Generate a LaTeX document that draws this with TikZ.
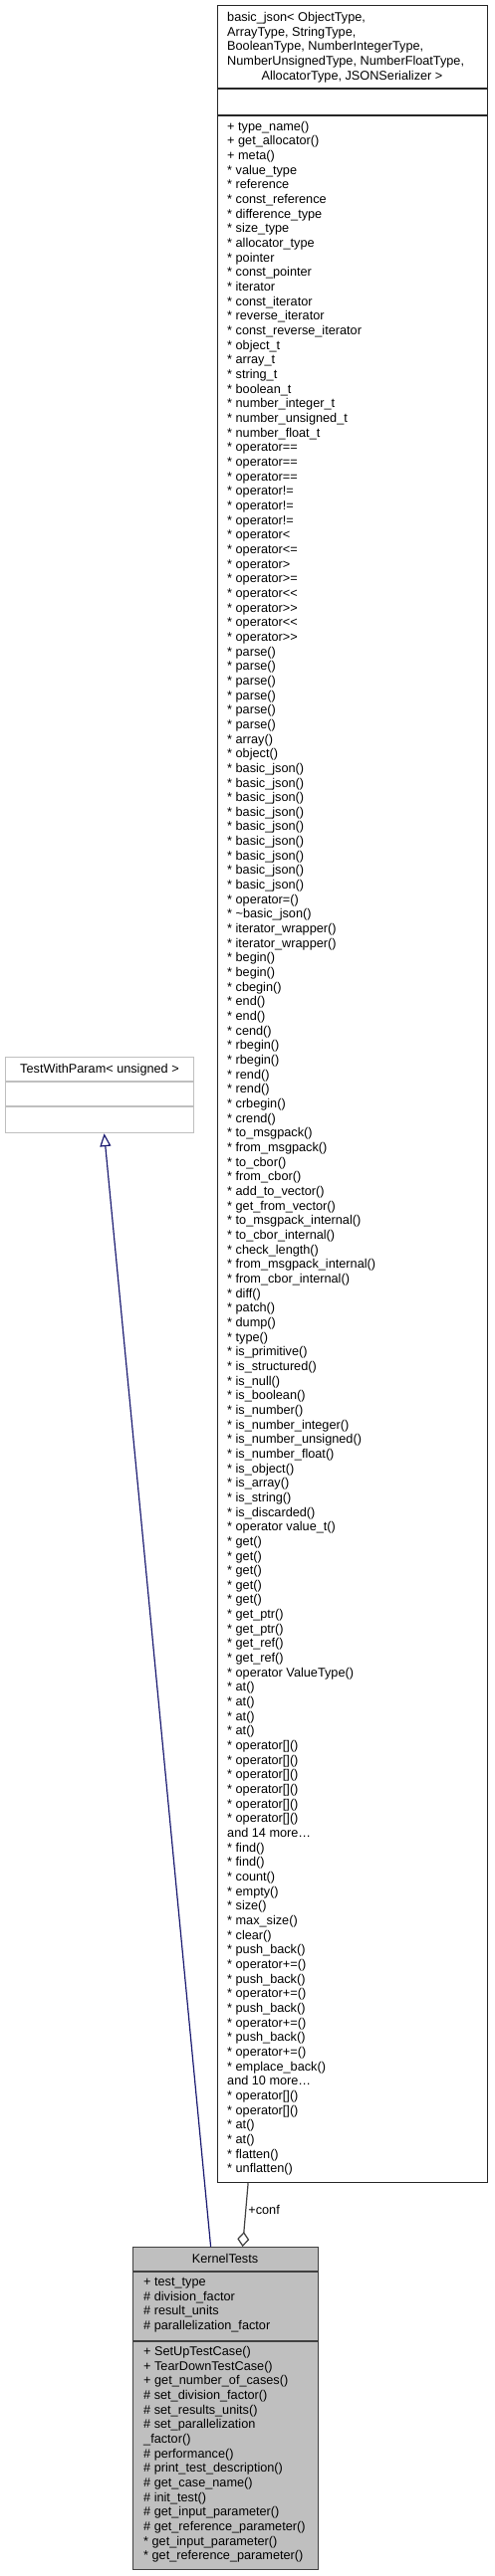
\documentclass[tikz,border=0pt]{standalone}
\usepackage{fontspec}
\setmainfont{Liberation Sans}[Ligatures=TeXOff]
\usetikzlibrary{arrows.meta}

\definecolor{navyedge}{HTML}{191970}
\definecolor{aggedge}{HTML}{404040}
\definecolor{greyfill}{HTML}{BFBFBF}

\begin{document}
\begin{tikzpicture}[
  x=1pt,
  y=-1pt,
  every node/.style={font=\fontsize{12.7}{14.66}\selectfont,inner sep=0pt},
  cls/.style={draw=black!85,line width=1.2pt,fill=white,anchor=north west},
  extcls/.style={cls,draw=greyfill},
  rootcls/.style={cls,draw=black!75,fill=greyfill},
  members/.style={anchor=north west,align=left,execute at begin node=\strut},
  entry/.style={anchor=base west},
  sep/.style={draw=black!85,line width=1.2pt},
  inherit/.style={-{Triangle[open,length=13pt,width=11pt]},navyedge,line width=1.2pt},
  aggr/.style={-{Diamond[open,length=15pt,width=12pt]},aggedge,line width=1.2pt}
]
\useasboundingbox (0,0) rectangle (496,2589);

% basic_json
\node[cls,minimum width=271pt,minimum height=2188pt] (json) at (218,5) {};
\draw[sep] (218,89) -- (489,89);
\draw[sep] (218,116) -- (489,116);
\node[members] (jsonname) at (228,12) {basic\_json< ObjectType,\\
  ArrayType, StringType,\\
  BooleanType, NumberIntegerType,\\
  NumberUnsignedType, NumberFloatType,};
\node[anchor=base] (jsonname2) at (353.5,80.9) {AllocatorType, JSONSerializer >};
\foreach \txt [count=\i from 0] in {+ type\_name(), + get\_allocator(), + meta(),
  * value\_type, * reference, * const\_reference, * difference\_type, * size\_type,
  * allocator\_type, * pointer, * const\_pointer, * iterator, * const\_iterator,
  * reverse\_iterator, * const\_reverse\_iterator, * object\_t, * array\_t,
  * string\_t, * boolean\_t, * number\_integer\_t, * number\_unsigned\_t,
  * number\_float\_t, * operator==, * operator==, * operator==, * operator!=,
  * operator!=, * operator!=, * operator<, * operator<=, * operator>,
  * operator>=, * operator<<, * operator>>, * operator<<, * operator>>,
  * parse(), * parse(), * parse(), * parse(), * parse(), * parse(),
  * array(), * object(), * basic\_json(), * basic\_json(), * basic\_json(),
  * basic\_json(), * basic\_json(), * basic\_json(), * basic\_json(),
  * basic\_json(), * basic\_json(), * operator=(), * \textasciitilde basic\_json(),
  * iterator\_wrapper(), * iterator\_wrapper(), * begin(), * begin(), * cbegin(),
  * end(), * end(), * cend(), * rbegin(), * rbegin(), * rend(), * rend(),
  * crbegin(), * crend(), * to\_msgpack(), * from\_msgpack(), * to\_cbor(),
  * from\_cbor(), * add\_to\_vector(), * get\_from\_vector(),
  * to\_msgpack\_internal(), * to\_cbor\_internal(), * check\_length(),
  * from\_msgpack\_internal(), * from\_cbor\_internal(), * diff(), * patch(),
  * dump(), * type(), * is\_primitive(), * is\_structured(), * is\_null(),
  * is\_boolean(), * is\_number(), * is\_number\_integer(),
  * is\_number\_unsigned(), * is\_number\_float(), * is\_object(), * is\_array(),
  * is\_string(), * is\_discarded(), * operator value\_t(), * get(), * get(),
  * get(), * get(), * get(), * get\_ptr(), * get\_ptr(), * get\_ref(),
  * get\_ref(), * operator ValueType(), * at(), * at(), * at(), * at(),
  * operator[](), * operator[](), * operator[](), * operator[](),
  * operator[](), * operator[](), and 14 more\ldots, * find(), * find(),
  * count(), * empty(), * size(), * max\_size(), * clear(), * push\_back(),
  * operator+=(), * push\_back(), * operator+=(), * push\_back(),
  * operator+=(), * push\_back(), * operator+=(), * emplace\_back(),
  and 10 more\ldots, * operator[](), * operator[](), * at(), * at(),
  * flatten(), * unflatten()}
  \node[entry] (jsonop\i) at (228,{131.3+14.66*\i}) {\txt};

% TestWithParam
\node[extcls,minimum width=189pt,minimum height=76pt] (param) at (5,1062) {};
\draw[sep,draw=greyfill] (5,1087) -- (194,1087);
\draw[sep,draw=greyfill] (5,1112) -- (194,1112);
\node[anchor=base] (paramname) at (100,1078.6) {TestWithParam< unsigned >};

% KernelTests
\node[rootcls,minimum width=186pt,minimum height=324pt] (kernel) at (133,2258) {};
\draw[sep,draw=black!75] (133,2283) -- (319,2283);
\draw[sep,draw=black!75] (133,2353) -- (319,2353);
\node[anchor=base] (kernelname) at (226,2274.5) {KernelTests};
\node[members] (kernelattr) at (144,2289) {+ test\_type\\
  \# division\_factor\\
  \# result\_units\\
  \# parallelization\_factor};
\node[members] (kernelops) at (144,2358) {+ SetUpTestCase()\\
  + TearDownTestCase()\\
  + get\_number\_of\_cases()\\
  \# set\_division\_factor()\\
  \# set\_results\_units()\\
  \# set\_parallelization\\
  \_factor()\\
  \# performance()\\
  \# print\_test\_description()\\
  \# get\_case\_name()\\
  \# init\_test()\\
  \# get\_input\_parameter()\\
  \# get\_reference\_parameter()\\
  * get\_input\_parameter()\\
  * get\_reference\_parameter()};

% edges
\draw[inherit] ([xshift=-15pt]kernel.north) -- ([xshift=4.5pt]param.south);
\draw[aggr] ([xshift=-105pt]json.south) -- node[right=2pt,pos=0.42,text=black] (conf) {+conf} ([xshift=17pt]kernel.north);
\end{tikzpicture}
\end{document}
